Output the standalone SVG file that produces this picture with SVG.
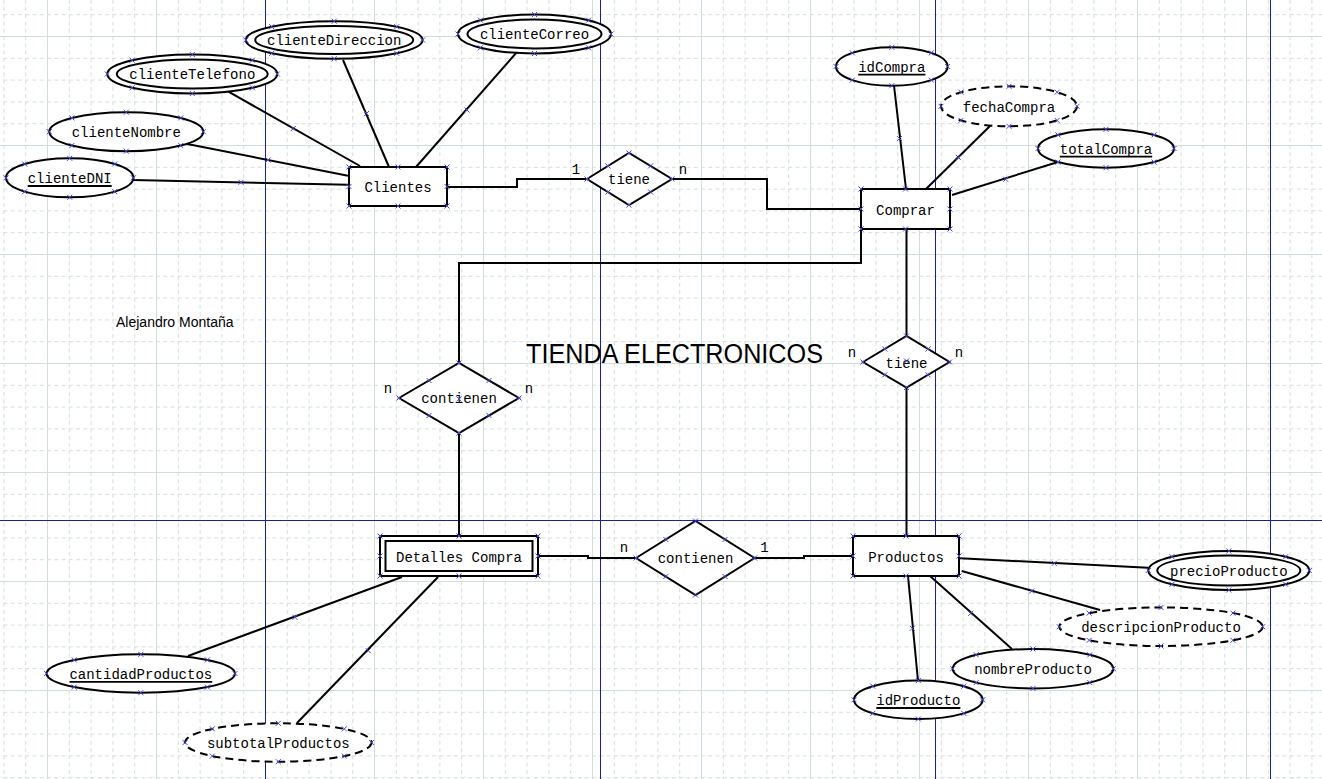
<svg xmlns="http://www.w3.org/2000/svg" xmlns:xlink="http://www.w3.org/1999/xlink" width="1322" height="779" viewBox="0 0 1322 779">
<style>
.sh{fill:#fff;stroke:#000;stroke-width:2}
.dsh{fill:#fff;stroke:#000;stroke-width:2;stroke-dasharray:8 5}
.in{fill:none;stroke:#000;stroke-width:2}
.ln{fill:none;stroke:#000;stroke-width:2}
.ul{stroke:#000;stroke-width:1.8}
.t{font-family:"Liberation Mono","Courier New",monospace;font-size:14px;fill:#000;text-anchor:middle}
.pb{stroke:#1c1ca8;stroke-width:1}
.g1{stroke:#cfdddb;stroke-width:1}
.g2{stroke:#d3e0de;stroke-width:1;stroke-dasharray:4 3.267}
</style>
<defs>
<pattern id="grid" patternUnits="userSpaceOnUse" x="47" y="36" width="109" height="109">
<line class="g2" x1="22.3" y1="0" x2="22.3" y2="109"/>
<line class="g2" x1="44.1" y1="0" x2="44.1" y2="109"/>
<line class="g2" x1="65.9" y1="0" x2="65.9" y2="109"/>
<line class="g2" x1="87.7" y1="0" x2="87.7" y2="109"/>
<line class="g2" x1="0" y1="22.3" x2="109" y2="22.3"/>
<line class="g2" x1="0" y1="44.1" x2="109" y2="44.1"/>
<line class="g2" x1="0" y1="65.9" x2="109" y2="65.9"/>
<line class="g2" x1="0" y1="87.7" x2="109" y2="87.7"/>
<line class="g1" x1="0.5" y1="0" x2="0.5" y2="109"/>
<line class="g1" x1="0" y1="0.5" x2="109" y2="0.5"/>
</pattern>
<path id="mk" d="M-2.5,-2.5L2.5,2.5M-2.5,2.5L2.5,-2.5" stroke="#4646e6" stroke-width="1" fill="none"/>
</defs>
<rect width="1322" height="779" fill="#fff"/>
<rect width="1322" height="779" fill="url(#grid)"/>
<g id="pagebreaks">
<line class="pb" x1="265.5" y1="0" x2="265.5" y2="779"/>
<line class="pb" x1="600.5" y1="0" x2="600.5" y2="779"/>
<line class="pb" x1="935.5" y1="0" x2="935.5" y2="779"/>
<line class="pb" x1="1270.5" y1="0" x2="1270.5" y2="779"/>
<line class="pb" x1="0" y1="520.5" x2="1322" y2="520.5"/>
</g>
<g id="connectors">
<path class="ln" d="M133.3,180 L348,184.7"/>
<path class="ln" d="M187.3,144 L348,175.7"/>
<path class="ln" d="M226.7,90.7 L360,166"/>
<path class="ln" d="M343,60 L389,167"/>
<path class="ln" d="M517,52 L416,167"/>
<path class="ln" d="M894,85.5 L906,189"/>
<path class="ln" d="M990,126 L926,189"/>
<path class="ln" d="M1058,162 L952,195"/>
<path class="ln" d="M960,558.3 L1148,567.7"/>
<path class="ln" d="M961.7,571 L1100,610"/>
<path class="ln" d="M930,576 L1012,649"/>
<path class="ln" d="M908,576 L918,681"/>
<path class="ln" d="M188,656 L402,577"/>
<path class="ln" d="M297,723 L438,577"/>
<path class="ln" d="M447,187 H517 V179 H587"/>
<path class="ln" d="M672,179 H767 V209 H861"/>
<path class="ln" d="M861,229 V263 H459 V363"/>
<path class="ln" d="M459,433 V536"/>
<path class="ln" d="M906.5,229 V336"/>
<path class="ln" d="M906.5,387 V536"/>
<path class="ln" d="M538,556 H588 V558 H636"/>
<path class="ln" d="M754.5,558 H804 V556 H853"/>
<use href="#mk" x="241" y="182.3"/>
<use href="#mk" x="268" y="160"/>
<use href="#mk" x="293.3" y="128.5"/>
<use href="#mk" x="366.5" y="113.5"/>
<use href="#mk" x="467" y="110"/>
<use href="#mk" x="899.5" y="138.5"/>
<use href="#mk" x="958.3" y="157.3"/>
<use href="#mk" x="1005.7" y="179.3"/>
<use href="#mk" x="1054.3" y="563.3"/>
<use href="#mk" x="1031.7" y="591"/>
<use href="#mk" x="970.7" y="613.3"/>
<use href="#mk" x="912.3" y="628.3"/>
<use href="#mk" x="295" y="617.3"/>
<use href="#mk" x="368.3" y="650.7"/>
</g>
<g id="clienteDNI">
<ellipse class="sh" cx="69.7" cy="177.8" rx="63.7" ry="19.5"/>
<text class="t" x="69.7" y="183.3">clienteDNI</text>
<line class="ul" x1="27.7" y1="186" x2="111.7" y2="186"/>
<use href="#mk" x="6" y="177.8"/><use href="#mk" x="133.4" y="177.8"/><use href="#mk" x="69.7" y="158.3"/><use href="#mk" x="69.7" y="197.3"/><use href="#mk" x="24.7" y="164"/><use href="#mk" x="114.7" y="164"/><use href="#mk" x="24.7" y="191.6"/><use href="#mk" x="114.7" y="191.6"/>
</g>
<g id="clienteNombre">
<ellipse class="sh" cx="126.3" cy="131.7" rx="77" ry="19.5"/>
<text class="t" x="126.3" y="137">clienteNombre</text>
<use href="#mk" x="49.3" y="131.7"/><use href="#mk" x="203.3" y="131.7"/><use href="#mk" x="126.3" y="112.2"/><use href="#mk" x="126.3" y="151.2"/><use href="#mk" x="71.9" y="117.9"/><use href="#mk" x="180.7" y="117.9"/><use href="#mk" x="71.9" y="145.5"/><use href="#mk" x="180.7" y="145.5"/>
</g>
<g id="clienteTelefono">
<ellipse class="sh" cx="192.3" cy="74" rx="85" ry="19.5"/>
<ellipse class="in" cx="192.3" cy="74" rx="75.5" ry="14.5"/>
<text class="t" x="192.3" y="79">clienteTelefono</text>
<use href="#mk" x="107.3" y="74"/><use href="#mk" x="277.3" y="74"/><use href="#mk" x="192.3" y="54.5"/><use href="#mk" x="192.3" y="93.5"/><use href="#mk" x="132.2" y="60.2"/><use href="#mk" x="252.4" y="60.2"/><use href="#mk" x="132.2" y="87.8"/><use href="#mk" x="252.4" y="87.8"/>
</g>
<g id="clienteDireccion">
<ellipse class="sh" cx="334.2" cy="40" rx="88.4" ry="18.8"/>
<ellipse class="in" cx="334.2" cy="40" rx="79" ry="14"/>
<text class="t" x="334.2" y="45">clienteDireccion</text>
<use href="#mk" x="245.8" y="40"/><use href="#mk" x="422.6" y="40"/><use href="#mk" x="334.2" y="21.2"/><use href="#mk" x="334.2" y="58.8"/><use href="#mk" x="271.7" y="26.7"/><use href="#mk" x="396.7" y="26.7"/><use href="#mk" x="271.7" y="53.3"/><use href="#mk" x="396.7" y="53.3"/>
</g>
<g id="clienteCorreo">
<ellipse class="sh" cx="534.5" cy="34" rx="76.5" ry="19.5"/>
<ellipse class="in" cx="534.5" cy="34" rx="67" ry="14.5"/>
<text class="t" x="534.5" y="39">clienteCorreo</text>
<use href="#mk" x="458" y="34"/><use href="#mk" x="611" y="34"/><use href="#mk" x="534.5" y="14.5"/><use href="#mk" x="534.5" y="53.5"/><use href="#mk" x="480.4" y="20.2"/><use href="#mk" x="588.6" y="20.2"/><use href="#mk" x="480.4" y="47.8"/><use href="#mk" x="588.6" y="47.8"/>
</g>
<g id="Clientes">
<rect class="sh" x="349" y="167" width="98" height="39"/>
<text class="t" x="398" y="192">Clientes</text>
<use href="#mk" x="349" y="167"/><use href="#mk" x="398" y="167"/><use href="#mk" x="447" y="167"/><use href="#mk" x="349" y="186.5"/><use href="#mk" x="447" y="186.5"/><use href="#mk" x="349" y="206"/><use href="#mk" x="398" y="206"/><use href="#mk" x="447" y="206"/>
</g>
<g id="tiene1">
<polygon class="sh" points="587,179 629,153 672,179 629,205"/>
<text class="t" x="629" y="184.3">tiene</text>
<text class="t" x="576" y="173.5">1</text>
<text class="t" x="683" y="173.5">n</text>
<use href="#mk" x="587" y="179"/><use href="#mk" x="629" y="153"/><use href="#mk" x="672" y="179"/><use href="#mk" x="629" y="205"/><use href="#mk" x="608" y="166"/><use href="#mk" x="650.5" y="166"/><use href="#mk" x="608" y="192"/><use href="#mk" x="650.5" y="192"/>
</g>
<g id="idCompra">
<ellipse class="sh" cx="891.8" cy="66.5" rx="55.8" ry="19.2"/>
<text class="t" x="891.8" y="72">idCompra</text>
<line class="ul" x1="858.2" y1="74.7" x2="925.4" y2="74.7"/>
<use href="#mk" x="836" y="66.5"/><use href="#mk" x="947.6" y="66.5"/><use href="#mk" x="891.8" y="47.3"/><use href="#mk" x="891.8" y="85.7"/><use href="#mk" x="852.3" y="52.9"/><use href="#mk" x="931.3" y="52.9"/><use href="#mk" x="852.3" y="80.1"/><use href="#mk" x="931.3" y="80.1"/>
</g>
<g id="fechaCompra">
<ellipse class="dsh" cx="1009" cy="106.3" rx="68" ry="20"/>
<text class="t" x="1009" y="111.5">fechaCompra</text>
<use href="#mk" x="941" y="106.3"/><use href="#mk" x="1077" y="106.3"/><use href="#mk" x="1009" y="86.3"/><use href="#mk" x="1009" y="126.3"/><use href="#mk" x="960.9" y="92.2"/><use href="#mk" x="1057.1" y="92.2"/><use href="#mk" x="960.9" y="120.4"/><use href="#mk" x="1057.1" y="120.4"/>
</g>
<g id="totalCompra">
<ellipse class="sh" cx="1106" cy="148.5" rx="68" ry="19.2"/>
<text class="t" x="1106" y="154">totalCompra</text>
<line class="ul" x1="1059.8" y1="156.7" x2="1152.2" y2="156.7"/>
<use href="#mk" x="1038" y="148.5"/><use href="#mk" x="1174" y="148.5"/><use href="#mk" x="1106" y="129.3"/><use href="#mk" x="1106" y="167.7"/><use href="#mk" x="1057.9" y="134.9"/><use href="#mk" x="1154.1" y="134.9"/><use href="#mk" x="1057.9" y="162.1"/><use href="#mk" x="1154.1" y="162.1"/>
</g>
<g id="Comprar">
<rect class="sh" x="861" y="189" width="89" height="40"/>
<text class="t" x="905.5" y="215">Comprar</text>
<use href="#mk" x="861" y="189"/><use href="#mk" x="905.5" y="189"/><use href="#mk" x="950" y="189"/><use href="#mk" x="861" y="209"/><use href="#mk" x="950" y="209"/><use href="#mk" x="861" y="229"/><use href="#mk" x="905.5" y="229"/><use href="#mk" x="950" y="229"/>
</g>
<g id="tiene2">
<polygon class="sh" points="863,362 906.5,336 949.5,362 906.5,387.5"/>
<text class="t" x="906.5" y="367.5">tiene</text>
<text class="t" x="852" y="357">n</text>
<text class="t" x="959" y="357">n</text>
<use href="#mk" x="863" y="362"/><use href="#mk" x="906.5" y="336"/><use href="#mk" x="949.5" y="362"/><use href="#mk" x="906.5" y="387.5"/><use href="#mk" x="884.8" y="349"/><use href="#mk" x="928" y="349"/><use href="#mk" x="884.8" y="374.8"/><use href="#mk" x="928" y="374.8"/><use href="#mk" x="906.5" y="361"/>
</g>
<g id="contienen1">
<polygon class="sh" points="399,398 459,363 519,398 459,433"/>
<text class="t" x="459" y="403">contienen</text>
<text class="t" x="388" y="393">n</text>
<text class="t" x="529" y="393">n</text>
<use href="#mk" x="399" y="398"/><use href="#mk" x="459" y="363"/><use href="#mk" x="519" y="398"/><use href="#mk" x="459" y="433"/><use href="#mk" x="429" y="380.5"/><use href="#mk" x="489" y="380.5"/><use href="#mk" x="429" y="415.5"/><use href="#mk" x="489" y="415.5"/><use href="#mk" x="459" y="399"/>
</g>
<g id="DetallesCompra">
<rect class="sh" x="380" y="536" width="158" height="40"/>
<rect class="in" x="385.5" y="541" width="147" height="30"/>
<text class="t" x="459" y="561.5">Detalles Compra</text>
<use href="#mk" x="380" y="536"/><use href="#mk" x="459" y="536"/><use href="#mk" x="538" y="536"/><use href="#mk" x="380" y="556"/><use href="#mk" x="538" y="556"/><use href="#mk" x="380" y="576"/><use href="#mk" x="459" y="576"/><use href="#mk" x="538" y="576"/>
</g>
<g id="contienen2">
<polygon class="sh" points="636,558 695.5,521 754.5,558 695.5,595"/>
<text class="t" x="695.5" y="563">contienen</text>
<text class="t" x="624" y="552">n</text>
<text class="t" x="764.5" y="552">1</text>
<use href="#mk" x="636" y="558"/><use href="#mk" x="695.5" y="521"/><use href="#mk" x="754.5" y="558"/><use href="#mk" x="695.5" y="595"/><use href="#mk" x="665.8" y="539.5"/><use href="#mk" x="725" y="539.5"/><use href="#mk" x="665.8" y="576.5"/><use href="#mk" x="725" y="576.5"/>
</g>
<g id="Productos">
<rect class="sh" x="853" y="536" width="106" height="40"/>
<text class="t" x="906" y="561.5">Productos</text>
<use href="#mk" x="853" y="536"/><use href="#mk" x="906" y="536"/><use href="#mk" x="959" y="536"/><use href="#mk" x="853" y="556"/><use href="#mk" x="959" y="556"/><use href="#mk" x="853" y="576"/><use href="#mk" x="906" y="576"/><use href="#mk" x="959" y="576"/>
</g>
<g id="precioProducto">
<ellipse class="sh" cx="1228.8" cy="570.5" rx="80.5" ry="19.5"/>
<ellipse class="in" cx="1228.8" cy="570.5" rx="71.5" ry="15"/>
<text class="t" x="1228.8" y="576">precioProducto</text>
<use href="#mk" x="1148.3" y="570.5"/><use href="#mk" x="1309.3" y="570.5"/><use href="#mk" x="1228.8" y="551"/><use href="#mk" x="1228.8" y="590"/><use href="#mk" x="1171.9" y="556.7"/><use href="#mk" x="1285.7" y="556.7"/><use href="#mk" x="1171.9" y="584.3"/><use href="#mk" x="1285.7" y="584.3"/>
</g>
<g id="descripcionProducto">
<ellipse class="dsh" cx="1161" cy="626.7" rx="101.7" ry="19.3"/>
<text class="t" x="1161" y="632">descripcionProducto</text>
<use href="#mk" x="1059.3" y="626.7"/><use href="#mk" x="1262.7" y="626.7"/><use href="#mk" x="1161" y="607.4"/><use href="#mk" x="1161" y="646"/><use href="#mk" x="1089.1" y="613.1"/><use href="#mk" x="1232.9" y="613.1"/><use href="#mk" x="1089.1" y="640.3"/><use href="#mk" x="1232.9" y="640.3"/>
</g>
<g id="nombreProducto">
<ellipse class="sh" cx="1033" cy="668.7" rx="80.3" ry="19.7"/>
<text class="t" x="1033" y="674">nombreProducto</text>
<use href="#mk" x="952.7" y="668.7"/><use href="#mk" x="1113.3" y="668.7"/><use href="#mk" x="1033" y="649"/><use href="#mk" x="1033" y="688.4"/><use href="#mk" x="976.2" y="654.8"/><use href="#mk" x="1089.8" y="654.8"/><use href="#mk" x="976.2" y="682.6"/><use href="#mk" x="1089.8" y="682.6"/>
</g>
<g id="idProducto">
<ellipse class="sh" cx="918.3" cy="699.8" rx="64.3" ry="19.2"/>
<text class="t" x="918.3" y="705.3">idProducto</text>
<line class="ul" x1="876.3" y1="708" x2="960.3" y2="708"/>
<use href="#mk" x="854" y="699.8"/><use href="#mk" x="982.6" y="699.8"/><use href="#mk" x="918.3" y="680.6"/><use href="#mk" x="918.3" y="719"/><use href="#mk" x="872.8" y="686.2"/><use href="#mk" x="963.8" y="686.2"/><use href="#mk" x="872.8" y="713.4"/><use href="#mk" x="963.8" y="713.4"/>
</g>
<g id="cantidadProductos">
<ellipse class="sh" cx="140.8" cy="673.5" rx="94.2" ry="19.2"/>
<text class="t" x="140.8" y="679">cantidadProductos</text>
<line class="ul" x1="69.4" y1="681.9" x2="212.2" y2="681.9"/>
<use href="#mk" x="46.6" y="673.5"/><use href="#mk" x="235" y="673.5"/><use href="#mk" x="140.8" y="654.3"/><use href="#mk" x="140.8" y="692.7"/><use href="#mk" x="74.2" y="659.9"/><use href="#mk" x="207.4" y="659.9"/><use href="#mk" x="74.2" y="687.1"/><use href="#mk" x="207.4" y="687.1"/>
</g>
<g id="subtotalProductos">
<ellipse class="dsh" cx="278.3" cy="742.5" rx="93.3" ry="19.2"/>
<text class="t" x="278.3" y="748">subtotalProductos</text>
<use href="#mk" x="185" y="742.5"/><use href="#mk" x="371.6" y="742.5"/><use href="#mk" x="278.3" y="723.3"/><use href="#mk" x="278.3" y="761.7"/><use href="#mk" x="212.3" y="728.9"/><use href="#mk" x="344.3" y="728.9"/><use href="#mk" x="212.3" y="756.1"/><use href="#mk" x="344.3" y="756.1"/>
</g>
<g id="labels">
<text x="526" y="363" font-family="Liberation Sans, Arial, sans-serif" font-size="27" fill="#000" textLength="297" lengthAdjust="spacingAndGlyphs">TIENDA ELECTRONICOS</text>
<text x="116" y="327" font-family="Liberation Sans, Arial, sans-serif" font-size="14" fill="#000">Alejandro Montaña</text>
</g>
</svg>
